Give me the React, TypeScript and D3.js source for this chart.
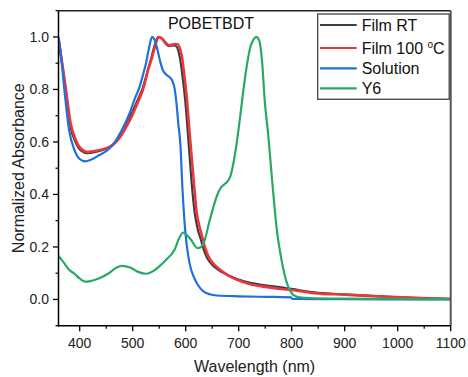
import React from "react";
import * as d3 from "d3";

const filmRT: [number, number][] = [
  [360, 0.994], [367, 0.895], [374, 0.79], [383, 0.655], [392, 0.6], [402, 0.568],
  [415, 0.557], [430, 0.562], [450, 0.574], [462, 0.588], [475, 0.617], [490, 0.672],
  [500, 0.717], [510, 0.763], [519, 0.806], [528, 0.87], [535, 0.92], [542, 0.972],
  [548, 1.0], [555, 0.993], [562, 0.975], [569, 0.965], [577, 0.968], [582, 0.965],
  [587, 0.94], [590, 0.91], [594, 0.85], [599, 0.76], [605, 0.61], [611, 0.45],
  [617, 0.33], [623, 0.265], [628, 0.232], [634, 0.19], [640, 0.16], [650, 0.132],
  [662, 0.112], [678, 0.094], [697, 0.078], [722, 0.063], [750, 0.054], [780, 0.046],
  [800, 0.04], [842, 0.027], [900, 0.019], [968, 0.012], [1030, 0.006], [1100, 0.002],
];

const film100: [number, number][] = [
  [360, 0.994], [367, 0.9], [374, 0.8], [383, 0.67], [392, 0.61], [402, 0.575],
  [415, 0.562], [430, 0.566], [450, 0.576], [462, 0.588], [475, 0.615], [490, 0.665],
  [500, 0.705], [510, 0.752], [519, 0.797], [530, 0.88], [536, 0.918], [542, 0.963],
  [549, 1.0], [555, 0.995], [562, 0.978], [569, 0.968], [578, 0.972], [585, 0.972],
  [590, 0.95], [593, 0.924], [597, 0.86], [602, 0.77], [608, 0.62], [615, 0.455],
  [621, 0.328], [627, 0.27], [631, 0.24], [637, 0.195], [643, 0.163], [653, 0.135],
  [665, 0.113], [680, 0.092], [697, 0.075], [722, 0.058], [750, 0.048], [780, 0.04],
  [800, 0.036], [842, 0.024], [900, 0.018], [968, 0.011], [1030, 0.006], [1100, 0.002],
];

const solution: [number, number][] = [
  [360, 1.0], [365, 0.92], [371, 0.8], [380, 0.645], [390, 0.57], [400, 0.535],
  [410, 0.526], [422, 0.533], [437, 0.55], [450, 0.565], [462, 0.588], [478, 0.64],
  [494, 0.709], [504, 0.765], [513, 0.81], [520, 0.86], [525, 0.899], [531, 0.96],
  [536.5, 1.0], [541, 0.99], [547, 0.949], [552, 0.905], [557, 0.873], [563, 0.857],
  [570, 0.846], [575, 0.832], [579, 0.804], [583, 0.74], [586, 0.67], [590, 0.59],
  [594, 0.417], [599, 0.265], [605, 0.163], [610, 0.115], [615, 0.087], [623, 0.055],
  [634, 0.03], [645, 0.02], [659, 0.015], [700, 0.012], [750, 0.01], [799, 0.008],
  [801, 0.002], [900, 0.001], [1000, 0.0], [1100, 0.0],
];

const y6: [number, number][] = [
  [360, 0.166], [370, 0.14], [380, 0.113], [390, 0.098], [400, 0.08], [410, 0.068],
  [420, 0.07], [437, 0.081], [455, 0.1], [470, 0.122], [480, 0.128], [495, 0.122],
  [510, 0.105], [525, 0.098], [540, 0.11], [555, 0.135], [565, 0.155], [579, 0.189],
  [588, 0.235], [595, 0.255], [602, 0.245], [611, 0.225], [617, 0.205], [623, 0.195],
  [629, 0.2], [636, 0.227], [645, 0.3], [652, 0.35], [659, 0.395], [666, 0.425],
  [672, 0.437], [679, 0.45], [684, 0.468], [690, 0.519], [697, 0.607], [703, 0.7],
  [709, 0.8], [716, 0.899], [722, 0.962], [728, 0.99], [733, 1.0], [738, 0.99],
  [744, 0.91], [749, 0.76], [756, 0.62], [763, 0.455], [772, 0.265], [782, 0.138],
  [791, 0.062], [798, 0.03], [804, 0.016], [815, 0.008], [835, 0.005], [900, 0.003],
  [1000, 0.002], [1100, 0.001],
];

const xMajor = [400, 500, 600, 700, 800, 900, 1000, 1100];
const xMinor = [450, 550, 650, 750, 850, 950, 1050];
const yMajor = [0, 0.2, 0.4, 0.6, 0.8, 1.0];
const yMinor = [-0.1, 0.1, 0.3, 0.5, 0.7, 0.9, 1.1];

const seriesNames = ["Film RT", "Film 100 ", "Solution", "Y6"];
const seriesColors = ["#3d3d3d", "#e8383d", "#1f6fdc", "#2aa866"];
const seriesData = [filmRT, film100, solution, y6];

const title = "POBETBDT";
const xTitle = "Wavelength (nm)";
const yTitle = "Normalized Absorbance";

export default function App() {
  const W = 468, H = 377;
  const L = 58.5, R = 450.7, T = 10.7, B = 325.7;
  const x = d3.scaleLinear().domain([360, 1100]).range([L, R]);
  const y = d3.scaleLinear().domain([-0.1, 1.1]).range([B, T]);
  const line = d3
    .line<[number, number]>()
    .x((d) => x(d[0]))
    .y((d) => y(d[1]))
    .curve(d3.curveMonotoneX);
  const font = "Arial, 'Liberation Sans', sans-serif";
  const drawOrder = [0, 1, 2, 3];
  const legendY = [25, 48, 68.3, 88.3];

  return (
    <svg
      width={W}
      height={H}
      style={{ position: "absolute", left: 0, top: 0, background: "#fff" }}
      fontFamily={font}
    >
      <rect x={0} y={0} width={W} height={H} fill="#fff" />
      <defs>
        <clipPath id="plot">
          <rect x={L} y={T} width={R - L} height={B - T} />
        </clipPath>
      </defs>
      <g clipPath="url(#plot)">
        {drawOrder.map((i) => (
          <path
            key={i}
            d={line(seriesData[i]) || ""}
            fill="none"
            stroke={seriesColors[i]}
            strokeWidth={i === 1 ? 2.6 : 2.2}
            strokeLinejoin="round"
          />
        ))}
      </g>
      {/* frame */}
      <line x1={L} y1={T} x2={R} y2={T} stroke="#222" strokeWidth={1.5} />
      <line x1={R} y1={T} x2={R} y2={B} stroke="#555" strokeWidth={2} />
      <line x1={L} y1={T} x2={L} y2={B + 0.75} stroke="#000" strokeWidth={1.5} />
      <line x1={L - 0.75} y1={B} x2={R} y2={B} stroke="#000" strokeWidth={1.5} />
      {/* x ticks */}
      {xMajor.map((v) => (
        <g key={"xM" + v}>
          <line x1={x(v)} x2={x(v)} y1={B} y2={B + 5.5} stroke="#000" strokeWidth={1.3} />
          <text x={x(v)} y={348} textAnchor="middle" fontSize={14} fill="#222">
            {v}
          </text>
        </g>
      ))}
      {xMinor.map((v) => (
        <line key={"xm" + v} x1={x(v)} x2={x(v)} y1={B} y2={B + 3} stroke="#000" strokeWidth={1.2} />
      ))}
      {/* y ticks */}
      {yMajor.map((v) => (
        <g key={"yM" + v}>
          <line x1={L} x2={L - 5.5} y1={y(v)} y2={y(v)} stroke="#000" strokeWidth={1.3} />
          <text x={49} y={y(v) + 5} textAnchor="end" fontSize={14} fill="#222">
            {v.toFixed(1)}
          </text>
        </g>
      ))}
      {yMinor.map((v) => (
        <line key={"ym" + v} x1={L} x2={L - 3} y1={y(v)} y2={y(v)} stroke="#000" strokeWidth={1.2} />
      ))}
      {/* titles */}
      <text x={211} y={29} textAnchor="middle" fontSize={16} fill="#111">
        {title}
      </text>
      <text x={(L + R) / 2} y={372} textAnchor="middle" fontSize={16} fill="#222">
        {xTitle}
      </text>
      <text
        transform={`translate(24, ${(T + B) / 2}) rotate(-90)`}
        textAnchor="middle"
        fontSize={16}
        fill="#222"
      >
        {yTitle}
      </text>
      {/* legend */}
      <rect x={317.7} y={14} width={131.5} height={85.3} fill="#fff" stroke="#444" strokeWidth={1.3} />
      {seriesNames.map((n, i) => (
        <g key={"lg" + i}>
          <line x1={320} x2={356.7} y1={legendY[i]} y2={legendY[i]} stroke={seriesColors[i]} strokeWidth={2.2} />
          <text x={361.7} y={legendY[i] + 5.5} fontSize={16} fill="#111">
            {n}
            {i === 1 ? (
              <>
                <tspan fontSize={10} dy={-6}>o</tspan>
                <tspan dy={6}>C</tspan>
              </>
            ) : null}
          </text>
        </g>
      ))}
    </svg>
  );
}
